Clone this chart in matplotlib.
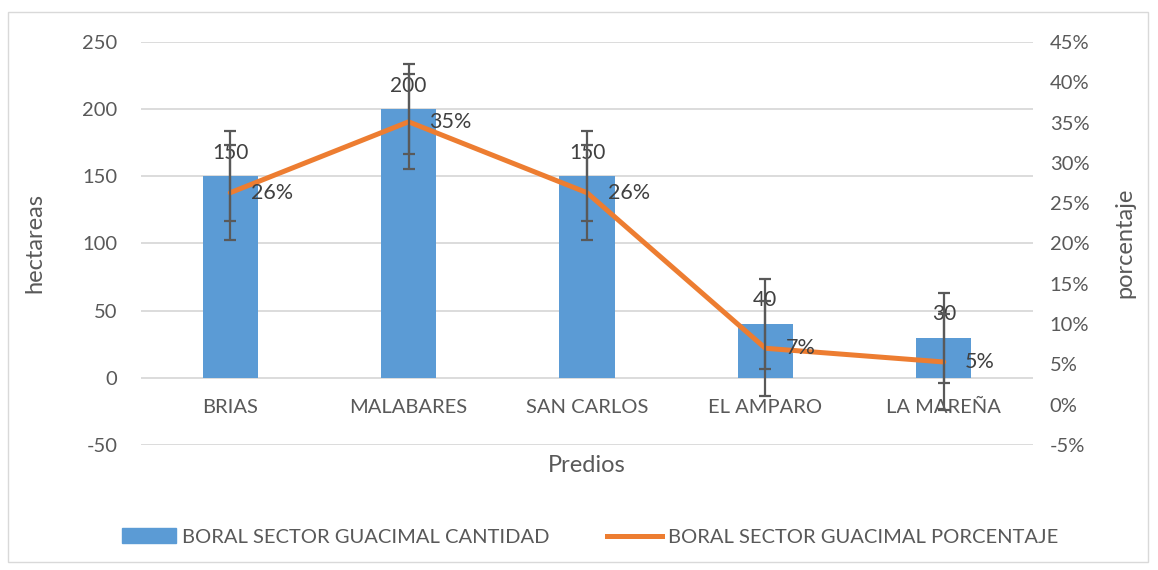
import matplotlib.pyplot as plt
import matplotlib.patches as mpatches
from matplotlib.lines import Line2D
from matplotlib.ticker import FuncFormatter

predios = ['BRIAS', 'MALABARES', 'SAN CARLOS', 'EL AMPARO', 'LA MAREÑA']
cantidad = [150, 200, 150, 40, 30]
porcentaje = [0.263, 0.351, 0.263, 0.070, 0.053]
cantidad_err = 33.5     # standard error bars
porcentaje_err = 0.059

blue = '#5B9BD5'
orange = '#ED7D31'
txt = '#595959'
grid = '#D9D9D9'

plt.rcParams['font.family'] = ['Lato', 'DejaVu Sans']
plt.rcParams['font.size'] = 14.5
plt.rcParams['axes.unicode_minus'] = False

fig = plt.figure(figsize=(11.58, 5.70), dpi=100)
ax = fig.add_axes([141/1158, 1-445/570, (1033-141)/1158, (445-42)/570])
ax2 = ax.twinx()

x = list(range(len(predios)))

ax.bar(x, cantidad, width=0.31, color=blue, zorder=2)
ax.errorbar(x, cantidad, yerr=cantidad_err, fmt='none', ecolor=txt,
            elinewidth=1.6, capsize=4.5, capthick=1.6, zorder=3)
for xi, v in zip(x, cantidad):
    ax.annotate(str(v), (xi, v), xytext=(0, 17), textcoords='offset points',
                ha='center', va='center', color='#404040', fontsize=15, zorder=5)

ax2.plot(x, porcentaje, color=orange, lw=3.6, solid_capstyle='round', zorder=2)
ax2.errorbar(x, porcentaje, yerr=porcentaje_err, fmt='none', ecolor=txt,
             elinewidth=1.6, capsize=4.5, capthick=1.6, zorder=3)
for xi, p in zip(x, porcentaje):
    ax2.annotate('%d%%' % round(p * 100), (xi, p), xytext=(15, 0),
                 textcoords='offset points', ha='left', va='center',
                 color='#404040', fontsize=15.5)

ax.set_xlim(-0.5, len(predios) - 0.5)
ax.set_ylim(-50, 250)
ax.set_yticks(range(-50, 251, 50))
ax2.set_ylim(-0.05, 0.45)
ax2.set_yticks([i / 100 for i in range(-5, 46, 5)])
ax2.yaxis.set_major_formatter(FuncFormatter(lambda v, _: '%d%%' % round(v * 100)))

ax.set_xticks(x)
ax.set_xticklabels(predios)
ax.spines['bottom'].set_position(('data', 0))

ax.grid(axis='y', color=grid, lw=1.3, zorder=0)
ax.set_axisbelow(True)
for a in (ax, ax2):
    for s in a.spines.values():
        s.set_visible(False)
ax.tick_params(axis='y', length=0, pad=17, colors=txt)
ax.tick_params(axis='x', length=0, pad=15, colors=txt)
ax2.tick_params(axis='y', length=0, pad=12, colors=txt)

fig.text(35/1158, 1-243/570, 'hectareas', rotation=90, ha='center', va='center',
         color=txt, fontsize=17)
fig.text(1125/1158, 1-243/570, 'porcentaje', rotation=90, ha='center', va='center',
         color=txt, fontsize=17)
fig.text(587/1158, 1-466/570, 'Predios', ha='center', va='center',
         color=txt, fontsize=17)

handles = [mpatches.Patch(color=blue), Line2D([], [], color=orange, lw=3.6)]
labels = ['BORAL SECTOR GUACIMAL CANTIDAD', 'BORAL SECTOR GUACIMAL PORCENTAJE']
fig.legend(handles, labels, loc='center', bbox_to_anchor=(590/1158, 1-537/570),
           ncol=2, frameon=False, handlelength=2.7, handleheight=0.7,
           columnspacing=2.85, handletextpad=0.3, labelcolor=txt)

fig.patches.append(mpatches.Rectangle((8/1158, 8/570), 1140/1158, 550/570,
                                      transform=fig.transFigure, fill=False,
                                      edgecolor=grid, lw=1))

fig.savefig('out.png', dpi=100)
